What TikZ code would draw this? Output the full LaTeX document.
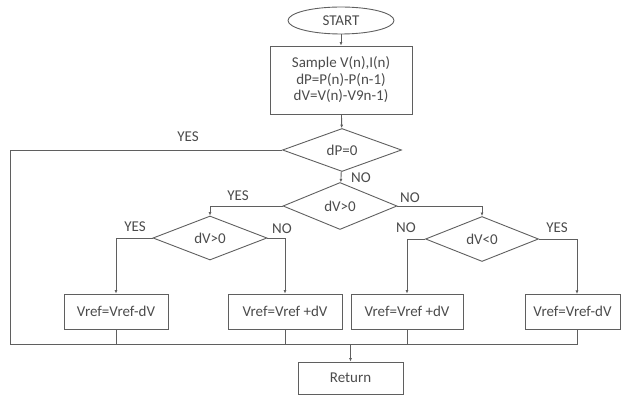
\documentclass[tikz,border=0pt]{standalone}
\usepackage{fontspec}
\setmainfont{Carlito}
\usetikzlibrary{shapes.geometric,arrows.meta}
\definecolor{lc}{RGB}{95,95,95}
\definecolor{tc}{RGB}{75,75,75}
\begin{document}
\begin{tikzpicture}[x=1pt,y=-1pt,
  every node/.style={text=tc,font=\fontsize{15}{16.5}\selectfont},
  box/.style={draw=lc,line width=0.9pt,rectangle,inner sep=0pt},
  dia/.style={draw=lc,line width=0.9pt,diamond,aspect=2.6,inner sep=0pt},
  conn/.style={draw=lc,line width=0.9pt},
  arr/.style={conn,-{Latex[length=3.5pt,width=3pt]}},
  lbl/.style={inner sep=0pt}]
\useasboundingbox (0,0) rectangle (621,395);
\node[draw=lc,line width=0.9pt,ellipse,minimum width=106pt,minimum height=27pt,inner sep=0pt] (start) at (341,20.5) {START};
\node[box,minimum width=142pt,minimum height=68pt,align=center] (sample) at (341,80) {Sample V(n),I(n)\\dP=P(n)-P(n-1)\\dV=V(n)-V9n-1)};
\node[dia,minimum width=119pt,minimum height=43pt] (dp) at (342,150) {dP=0};
\node[dia,minimum width=114pt,minimum height=47pt] (dv1) at (340,206) {dV>0};
\node[dia,minimum width=114pt,minimum height=44pt] (dv2) at (210,238) {dV>0};
\node[dia,minimum width=113pt,minimum height=45pt] (dv3) at (482,239) {dV<0};
\node[box,minimum width=104pt,minimum height=35pt] (b1) at (116,311.5) {Vref=Vref-dV};
\node[box,minimum width=114pt,minimum height=35pt] (b2) at (285,311.5) {Vref=Vref +dV};
\node[box,minimum width=112pt,minimum height=35pt] (b3) at (407,311.5) {Vref=Vref +dV};
\node[box,minimum width=95pt,minimum height=35pt] (b4) at (572.5,311.5) {Vref=Vref-dV};
\node[box,minimum width=105pt,minimum height=32pt] (ret) at (350.5,378) {Return};
\coordinate (L) at (10,344);
\coordinate (R) at (577,344);
\coordinate (b4in) at (577,294);
\coordinate (b4out) at (577,329);
% connectors
\draw[arr] (start) -- (sample);
\draw[arr] (sample) -- (dp);
\draw[arr] (dp) -- (dv1);
\draw[arr] (dv1.west) -| (dv2.north);
\draw[arr] (dv1.east) -| (dv3.north);
\draw[arr] (dv2.west) -| (b1.north);
\draw[arr] (dv2.east) -| (b2.north);
\draw[arr] (dv3.west) -| (b3.north);
\draw[arr] (dv3.east) -| (b4in);
\draw[conn] (dp.west) -| (L) -- (R) -- (b4out);
\draw[conn] (b1.south) -- (b1.south |- L);
\draw[conn] (b2.south) -- (b2.south |- L);
\draw[conn] (b3.south) -- (b3.south |- L);
\draw[arr] (ret.north |- L) -- (ret.north);
% labels
\node[lbl] (ly0) at (188,137) {YES};
\node[lbl] (ln0) at (361,178) {NO};
\node[lbl] (ly1) at (238,196) {YES};
\node[lbl] (ln1) at (410,198) {NO};
\node[lbl] (ly2) at (135,227) {YES};
\node[lbl] (ln2) at (282,229) {NO};
\node[lbl] (ln3) at (406,228) {NO};
\node[lbl] (ly3) at (557,228) {YES};
\end{tikzpicture}
\end{document}
